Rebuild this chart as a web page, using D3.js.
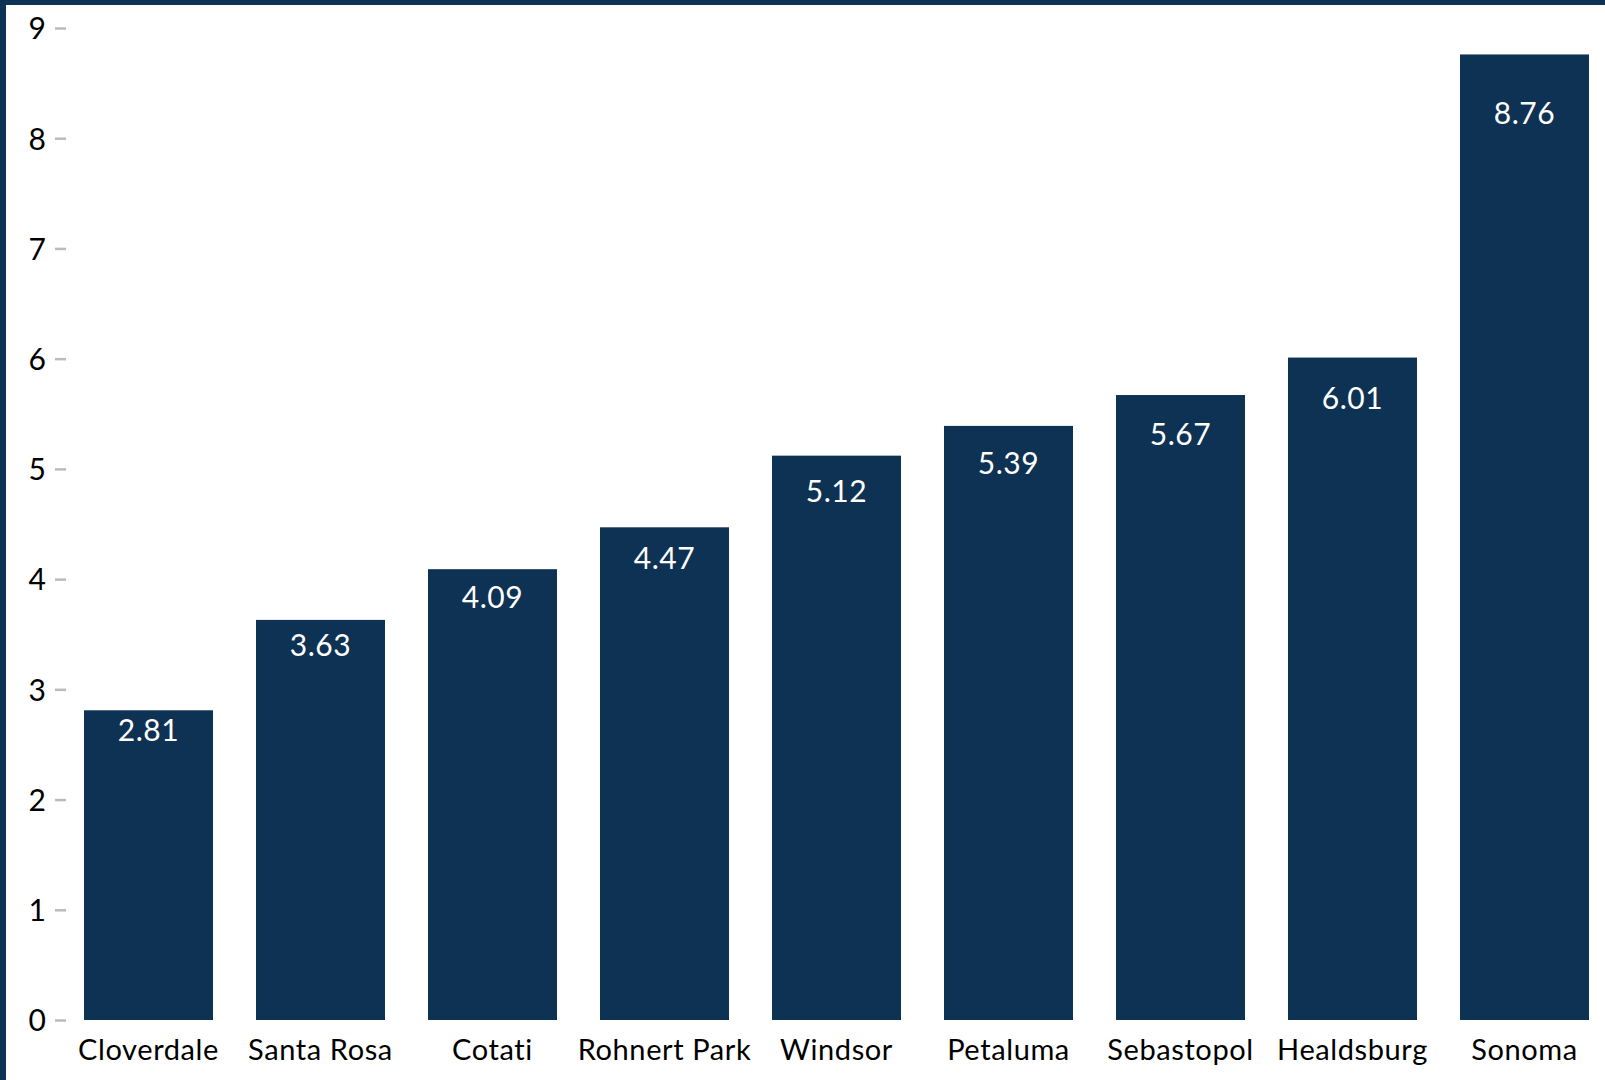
<!DOCTYPE html>
<html>
<head>
<meta charset="utf-8">
<script src="https://cdn.jsdelivr.net/npm/d3@7"></script>
<style>
  html, body { margin: 0; padding: 0; background: #fff; }
  svg { display: block; }
  text { font-family: Lato, "Noto Sans", sans-serif; }
</style>
</head>
<body>
<svg id="chart" width="1605" height="1080"></svg>
<script>
// Sonoma County cities, ascending
const cities = ["Cloverdale", "Santa Rosa", "Cotati", "Rohnert Park", "Windsor",
                "Petaluma", "Sebastopol", "Healdsburg", "Sonoma"];
const values = [2.81, 3.63, 4.09, 4.47, 5.12, 5.39, 5.67, 6.01, 8.76];
const yTicks = [0, 1, 2, 3, 4, 5, 6, 7, 8, 9];

const W = 1605, H = 1080;
const navy = "#0e3253";

const svg = d3.select("#chart");

// frame edges along the top and left of the page
svg.append("rect").attr("x", 0).attr("y", 0).attr("width", W).attr("height", 5).attr("fill", navy);
svg.append("rect").attr("x", 0).attr("y", 0).attr("width", 6).attr("height", H).attr("fill", navy);

const x = d3.scaleBand()
  .domain(cities)
  .range([84, 1589])
  .paddingInner(0.25)
  .paddingOuter(0);

const y = d3.scaleLinear()
  .domain([0, 9])
  .range([1020, 28]);

// y axis: short grey ticks, no domain line
const yAxis = svg.append("g")
  .attr("transform", "translate(66,0)")
  .call(d3.axisLeft(y).tickValues(yTicks).tickSize(11).tickPadding(9).tickFormat(d3.format("d")));
yAxis.select(".domain").remove();
yAxis.selectAll(".tick line").attr("stroke", "#bbbbbb").attr("stroke-width", 2.5);
yAxis.selectAll(".tick text")
  .attr("fill", "#000")
  .attr("dy", "0.36em")
  .style("font-size", "30px")
  .style("font-family", "Lato, 'Noto Sans', sans-serif");

// bars
svg.append("g").selectAll("rect")
  .data(values)
  .join("rect")
  .attr("x", (d, i) => x(cities[i]))
  .attr("y", d => y(d))
  .attr("width", x.bandwidth())
  .attr("height", d => y(0) - y(d))
  .attr("fill", navy);

// value labels inside bars
svg.append("g").selectAll("text")
  .data(values)
  .join("text")
  .attr("x", (d, i) => x(cities[i]) + x.bandwidth() / 2)
  .attr("y", d => y(d) + (y(0) - y(d)) * 0.06 + 12)
  .attr("text-anchor", "middle")
  .attr("fill", "#fff")
  .style("font-size", "30px")
  .style("letter-spacing", "0.6px")
  .text(d => d.toFixed(2));

// category labels
svg.append("g").selectAll("text")
  .data(cities)
  .join("text")
  .attr("x", d => x(d) + x.bandwidth() / 2)
  .attr("y", 1060)
  .attr("text-anchor", "middle")
  .attr("fill", "#000")
  .style("font-size", "29px")
  .style("letter-spacing", "0.6px")
  .text(d => d);
</script>
</body>
</html>
